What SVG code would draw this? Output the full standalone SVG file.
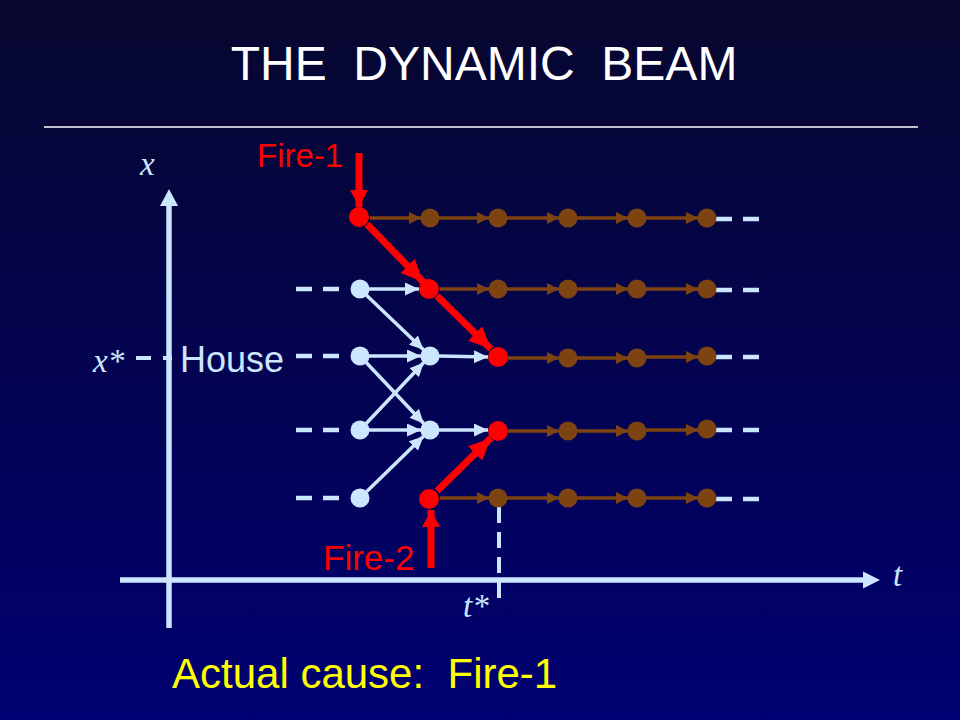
<svg xmlns="http://www.w3.org/2000/svg" width="960" height="720" viewBox="0 0 960 720">
<defs>
<linearGradient id="bg" x1="0" y1="0" x2="0" y2="1">
<stop offset="0" stop-color="#07072e"/>
<stop offset="1" stop-color="#000072"/>
</linearGradient>
<marker id="mb" markerUnits="userSpaceOnUse" markerWidth="12" markerHeight="12" refX="12" refY="6" orient="auto"><path d="M0,0 L12,6 L0,12 z" fill="#7d4411"/></marker>
<marker id="ml" markerUnits="userSpaceOnUse" markerWidth="14" markerHeight="13" refX="14" refY="6.5" orient="auto"><path d="M0,0 L14,6.5 L0,13 z" fill="#cce6ff"/></marker>
<marker id="mr" markerUnits="userSpaceOnUse" markerWidth="22" markerHeight="20" refX="22" refY="10" orient="auto"><path d="M0,0 L22,10 L0,20 z" fill="#ff0000"/></marker>
<marker id="mv" markerUnits="userSpaceOnUse" markerWidth="17" markerHeight="18" refX="17" refY="9" orient="auto"><path d="M0,0 L17,9 L0,18 z" fill="#ff0000"/></marker>
<style>
.t{font-family:"Liberation Sans",Arial,sans-serif;white-space:pre}
.i{font-family:"Liberation Serif","Times New Roman",serif;font-style:italic;fill:#cce6ff;font-size:33px}
.b{stroke:#7d4411;stroke-width:3.5;fill:none;marker-end:url(#mb)}
.l{stroke:#cce6ff;stroke-width:3.5;fill:none;marker-end:url(#ml)}
.r{stroke:#ff0000;stroke-width:7;fill:none;marker-end:url(#mr)}
.rv{stroke:#ff0000;stroke-width:7;fill:none;marker-end:url(#mv)}
.d{stroke:#cce6ff;stroke-width:4.5;fill:none;stroke-dasharray:16 11}
.nb{fill:#7d4411}
.nl{fill:#cce6ff}
.nr{fill:#ff0000}
</style>
</defs>
<rect width="960" height="720" fill="url(#bg)"/>
<text class="t" x="484" y="80" text-anchor="middle" font-size="48" fill="#ffffff">THE  DYNAMIC  BEAM</text>
<line x1="44" y1="127" x2="918" y2="127" stroke="#ffffff" stroke-width="1.5"/>

<g id="axes">
<line x1="169" y1="628" x2="169" y2="204" stroke="#cce6ff" stroke-width="5.5"/>
<path d="M169,189 L160,206 L178,206 z" fill="#cce6ff"/>
<line x1="120" y1="580" x2="866" y2="580" stroke="#cce6ff" stroke-width="5.5"/>
<path d="M880,580 L863,571.5 L863,588.5 z" fill="#cce6ff"/>
<text class="i" x="140" y="175">x</text>
<text class="i" x="893" y="586">t</text>
<text class="i" x="93" y="372">x*</text>
<text class="i" x="463" y="617">t*</text>
<line x1="136" y1="358" x2="172" y2="358" stroke="#cce6ff" stroke-width="4" stroke-dasharray="15 12"/>
<line x1="499" y1="507" x2="499" y2="605" stroke="#cce6ff" stroke-width="4" stroke-dasharray="16 9"/>
</g>

<g id="connectors">
<line class="d" x1="296" y1="289" x2="340" y2="289"/>
<line class="d" x1="296" y1="356" x2="340" y2="356"/>
<line class="d" x1="296" y1="430" x2="340" y2="430"/>
<line class="d" x1="296" y1="498" x2="340" y2="498"/>
<line class="d" x1="716" y1="219" x2="760" y2="219"/>
<line class="d" x1="716" y1="290" x2="760" y2="290"/>
<line class="d" x1="716" y1="357" x2="760" y2="357"/>
<line class="d" x1="716" y1="430" x2="760" y2="430"/>
<line class="d" x1="716" y1="499" x2="760" y2="499"/>
<line class="b" x1="370" y1="218" x2="421" y2="218"/>
<line class="b" x1="439" y1="218" x2="489" y2="218"/>
<line class="b" x1="507" y1="218" x2="559" y2="218"/>
<line class="b" x1="577" y1="218" x2="628" y2="218"/>
<line class="b" x1="646" y1="218" x2="698" y2="218"/>
<line class="b" x1="440" y1="289" x2="489" y2="289"/>
<line class="b" x1="507" y1="289" x2="559" y2="289"/>
<line class="b" x1="577" y1="289" x2="628" y2="289"/>
<line class="b" x1="646" y1="289" x2="698" y2="289"/>
<line class="b" x1="508" y1="358" x2="559" y2="358"/>
<line class="b" x1="577" y1="358" x2="628" y2="358"/>
<line class="b" x1="646" y1="357" x2="698" y2="357"/>
<line class="b" x1="508" y1="431" x2="559" y2="431"/>
<line class="b" x1="577" y1="431" x2="628" y2="431"/>
<line class="b" x1="646" y1="430" x2="698" y2="430"/>
<line class="b" x1="440" y1="498" x2="489" y2="498"/>
<line class="b" x1="507" y1="498" x2="559" y2="498"/>
<line class="b" x1="577" y1="498" x2="628" y2="498"/>
<line class="b" x1="646" y1="498" x2="698" y2="498"/>
<line class="l" x1="369" y1="289" x2="419" y2="289"/>
<line class="l" x1="369" y1="356" x2="421" y2="356"/>
<line class="l" x1="439" y1="356" x2="488" y2="357"/>
<line class="l" x1="369" y1="430" x2="421" y2="430"/>
<line class="l" x1="439" y1="430" x2="488" y2="430"/>
<line class="l" x1="366.5" y1="295.2" x2="423.5" y2="349.8"/>
<line class="l" x1="366.2" y1="362.5" x2="423.8" y2="423.5"/>
<line class="l" x1="366.2" y1="423.5" x2="423.8" y2="362.5"/>
<line class="l" x1="366.5" y1="491.7" x2="423.5" y2="436.3"/>
<line class="r" x1="367" y1="224.2" x2="423" y2="281.8"/>
<line class="r" x1="437.1" y1="296" x2="490.9" y2="349"/>
<line class="r" x1="437.1" y1="490.9" x2="490.9" y2="438"/>
<line class="rv" x1="359" y1="153" x2="359" y2="207"/>
<line class="rv" x1="431" y1="568" x2="431" y2="510"/>
</g>

<g id="nodes-lightblue">
<circle class="nl" cx="360" cy="289" r="9.5"/>
<circle class="nl" cx="360" cy="356" r="9.5"/>
<circle class="nl" cx="360" cy="430" r="9.5"/>
<circle class="nl" cx="360" cy="498" r="9.5"/>
<circle class="nl" cx="430" cy="356" r="9.5"/>
<circle class="nl" cx="430" cy="430" r="9.5"/>
</g>
<g id="nodes-red">
<circle class="nr" cx="359" cy="217" r="10"/>
<circle class="nr" cx="429" cy="289" r="10"/>
<circle class="nr" cx="498" cy="357" r="10"/>
<circle class="nr" cx="498" cy="431" r="10"/>
<circle class="nr" cx="429" cy="499" r="10"/>
</g>
<g id="nodes-brown">
<circle class="nb" cx="430" cy="218" r="9.5"/>
<circle class="nb" cx="498" cy="218" r="9.5"/>
<circle class="nb" cx="568" cy="218" r="9.5"/>
<circle class="nb" cx="637" cy="218" r="9.5"/>
<circle class="nb" cx="707" cy="218" r="9.5"/>
<circle class="nb" cx="498" cy="289" r="9.5"/>
<circle class="nb" cx="568" cy="289" r="9.5"/>
<circle class="nb" cx="637" cy="289" r="9.5"/>
<circle class="nb" cx="707" cy="289" r="9.5"/>
<circle class="nb" cx="568" cy="358" r="9.5"/>
<circle class="nb" cx="637" cy="358" r="9.5"/>
<circle class="nb" cx="707" cy="356" r="9.5"/>
<circle class="nb" cx="568" cy="431" r="9.5"/>
<circle class="nb" cx="637" cy="431" r="9.5"/>
<circle class="nb" cx="707" cy="429" r="9.5"/>
<circle class="nb" cx="498" cy="498" r="9.5"/>
<circle class="nb" cx="568" cy="498" r="9.5"/>
<circle class="nb" cx="637" cy="498" r="9.5"/>
<circle class="nb" cx="707" cy="498" r="9.5"/>
</g>

<g id="labels">
<text class="t" x="257" y="167" font-size="33" fill="#ff0000">Fire-1</text>
<text class="t" x="323" y="570" font-size="35" fill="#ff0000">Fire-2</text>
<text class="t" x="180" y="372" font-size="36" fill="#cce6ff">House</text>
<text class="t" x="172" y="688" font-size="42" fill="#ffff00">Actual cause:  Fire-1</text>
</g>
</svg>
